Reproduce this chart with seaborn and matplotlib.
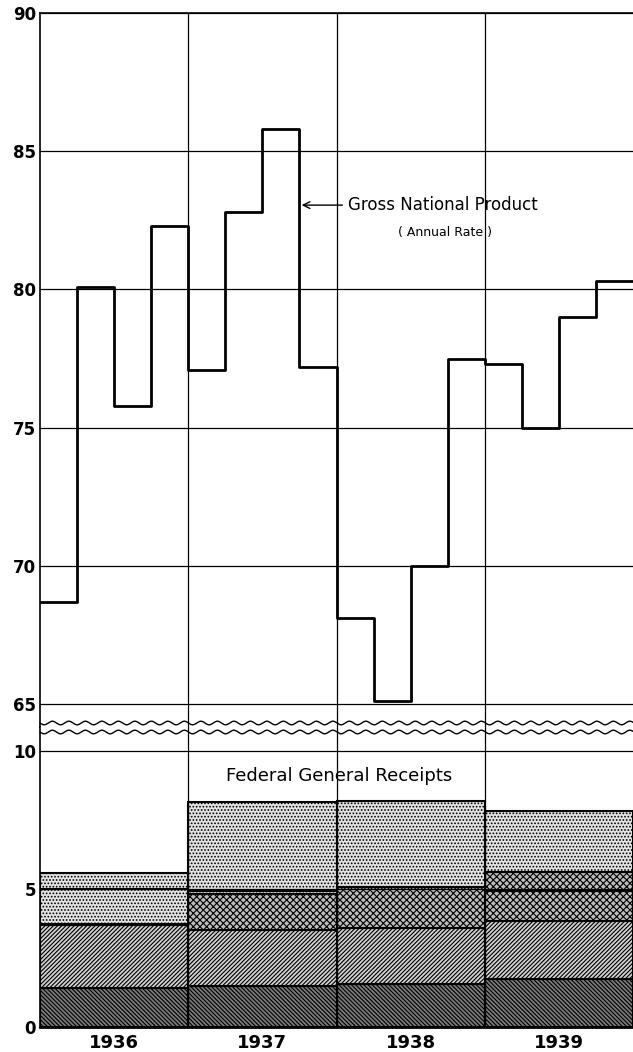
import numpy as np
import pandas as pd
import matplotlib
matplotlib.use("Agg")
import matplotlib.pyplot as plt
from matplotlib.lines import Line2D
import seaborn as sns

# Gross National Product, quarterly, annual rate (billions)
quarters = [1936.0, 1936.25, 1936.5, 1936.75,
            1937.0, 1937.25, 1937.5, 1937.75,
            1938.0, 1938.25, 1938.5, 1938.75,
            1939.0, 1939.25, 1939.5, 1939.75]
gnp = [68.7, 80.1, 75.8, 82.3,
       77.1, 82.8, 85.8, 77.2,
       68.1, 65.1, 70.0, 77.5,
       77.3, 75.0, 79.0, 80.3]

# Federal general receipts, by year, stacked components (billions)
years = [1936, 1937, 1938, 1939]
year_labels = ["1936", "1937", "1938", "1939"]
layer_a = [1.40, 1.47, 1.57, 1.74]
layer_b = [2.30, 2.03, 2.01, 2.10]
layer_c = [0.05, 1.32, 1.48, 1.10]
layer_d = [1.25, 0.12, 0.00, 0.67]
layer_e = [0.60, 3.22, 3.14, 2.21]

top_ticks = [65, 70, 75, 80, 85, 90]
bottom_ticks = [0, 5, 10]

sns.set_style("white")
plt.rcParams["font.family"] = ["DejaVu Sans"]
plt.rcParams["hatch.linewidth"] = 0.8
plt.rcParams["text.color"] = "black"
plt.rcParams["xtick.color"] = "black"
plt.rcParams["ytick.color"] = "black"

W, H = 633, 1052
fig = plt.figure(figsize=(W / 100, H / 100), dpi=100)

def px_axes(top, bottom):
    return [40 / W, 1 - bottom / H, (W - 40) / W, (bottom - top) / H]

ax1 = fig.add_axes(px_axes(13, 727))
ax2 = fig.add_axes(px_axes(727, 1027))

# --- top panel: step line ---
df = pd.DataFrame({"x": quarters + [1940.0], "gnp": gnp + [gnp[-1]]})
sns.lineplot(data=df, x="x", y="gnp", ax=ax1, color="black", lw=2.0,
             drawstyle="steps-post")
ax1.set_xlim(1936, 1940)
ax1.set_ylim(64.17, 90)
ax1.set_yticks(top_ticks)
ax1.set_xticks([1937, 1938, 1939])
ax1.set_xticklabels([])
ax1.grid(True, color="black", lw=0.9)
ax1.tick_params(length=0, pad=3, labelsize=12, labelcolor="black")
for lab in ax1.get_yticklabels():
    lab.set_fontweight("bold")
ax1.set_xlabel("")
ax1.set_ylabel("")
for s in ["right", "bottom"]:
    ax1.spines[s].set_visible(False)
for s in ["left", "top"]:
    ax1.spines[s].set_color("black")
    ax1.spines[s].set_linewidth(1.2)

ax1.annotate("Gross National Product", xy=(1937.765, 83.05), xytext=(1938.08, 83.05),
             ha="left", va="center", fontsize=12, color="black",
             arrowprops=dict(arrowstyle="->", color="black", lw=1.0,
                             shrinkA=2, shrinkB=0))
ax1.text(1938.73, 82.05, "( Annual Rate )", ha="center", va="center", fontsize=9,
         color="black")

# --- bottom panel: stacked bars ---
layers = [layer_a, layer_b, layer_c, layer_d, layer_e]
hatches = [
    ["\\\\\\\\\\\\\\\\"] * 4,
    ["////////"] * 4,
    ["xxxxx"] * 4,
    [".....", ".....", ".....", "xxxxx"],
    ["....."] * 4,
]
faces = [
    ["#7a7a7a"] * 4,
    ["#d0d0d0"] * 4,
    ["#bcbcbc"] * 4,
    ["#e2e2e2", "#e2e2e2", "#e2e2e2", "#bcbcbc"],
    ["#e2e2e2"] * 4,
]
base = np.zeros(len(years))
centers = [y + 0.5 for y in years]
for vals, hs, fcs in zip(layers, hatches, faces):
    bars = ax2.bar(centers, vals, width=1.0, bottom=base, color=fcs,
                   edgecolor="black", lw=1.5)
    for b, h in zip(bars, hs):
        b.set_hatch(h)
    base = base + np.array(vals)

ax2.set_xlim(1936, 1940)
ax2.set_ylim(0, 10.88)
ax2.set_yticks(bottom_ticks)
ax2.set_xticks([1937, 1938, 1939])
ax2.set_xticklabels([])
ax2.set_xticks(centers, minor=True)
ax2.set_xticklabels(year_labels, minor=True)
ax2.grid(True, which="major", color="black", lw=0.9)
ax2.set_axisbelow(False)
ax2.tick_params(which="both", length=0, pad=3, labelsize=12, labelcolor="black")
ax2.tick_params(axis="x", which="minor", pad=5, labelsize=13)
for lab in ax2.get_yticklabels() + ax2.get_xticklabels(minor=True):
    lab.set_fontweight("bold")
for s in ["right", "top"]:
    ax2.spines[s].set_visible(False)
ax2.spines["left"].set_color("black")
ax2.spines["left"].set_linewidth(1.2)
ax2.spines["bottom"].set_color("black")
ax2.spines["bottom"].set_linewidth(2.0)

ax2.text(1938.02, 9.12, "Federal General Receipts", ha="center", va="center",
         fontsize=13, color="black")

# --- scale break: two wavy lines ---
xs = np.linspace(40, W, 800)
for yc in (723, 732):
    ys = yc + 1.8 * np.sin(2 * np.pi * (xs - 40) / 16.5)
    fig.add_artist(Line2D(xs / W, 1 - ys / H, transform=fig.transFigure,
                          color="black", lw=1.0))

fig.savefig("out.png", dpi=100)
